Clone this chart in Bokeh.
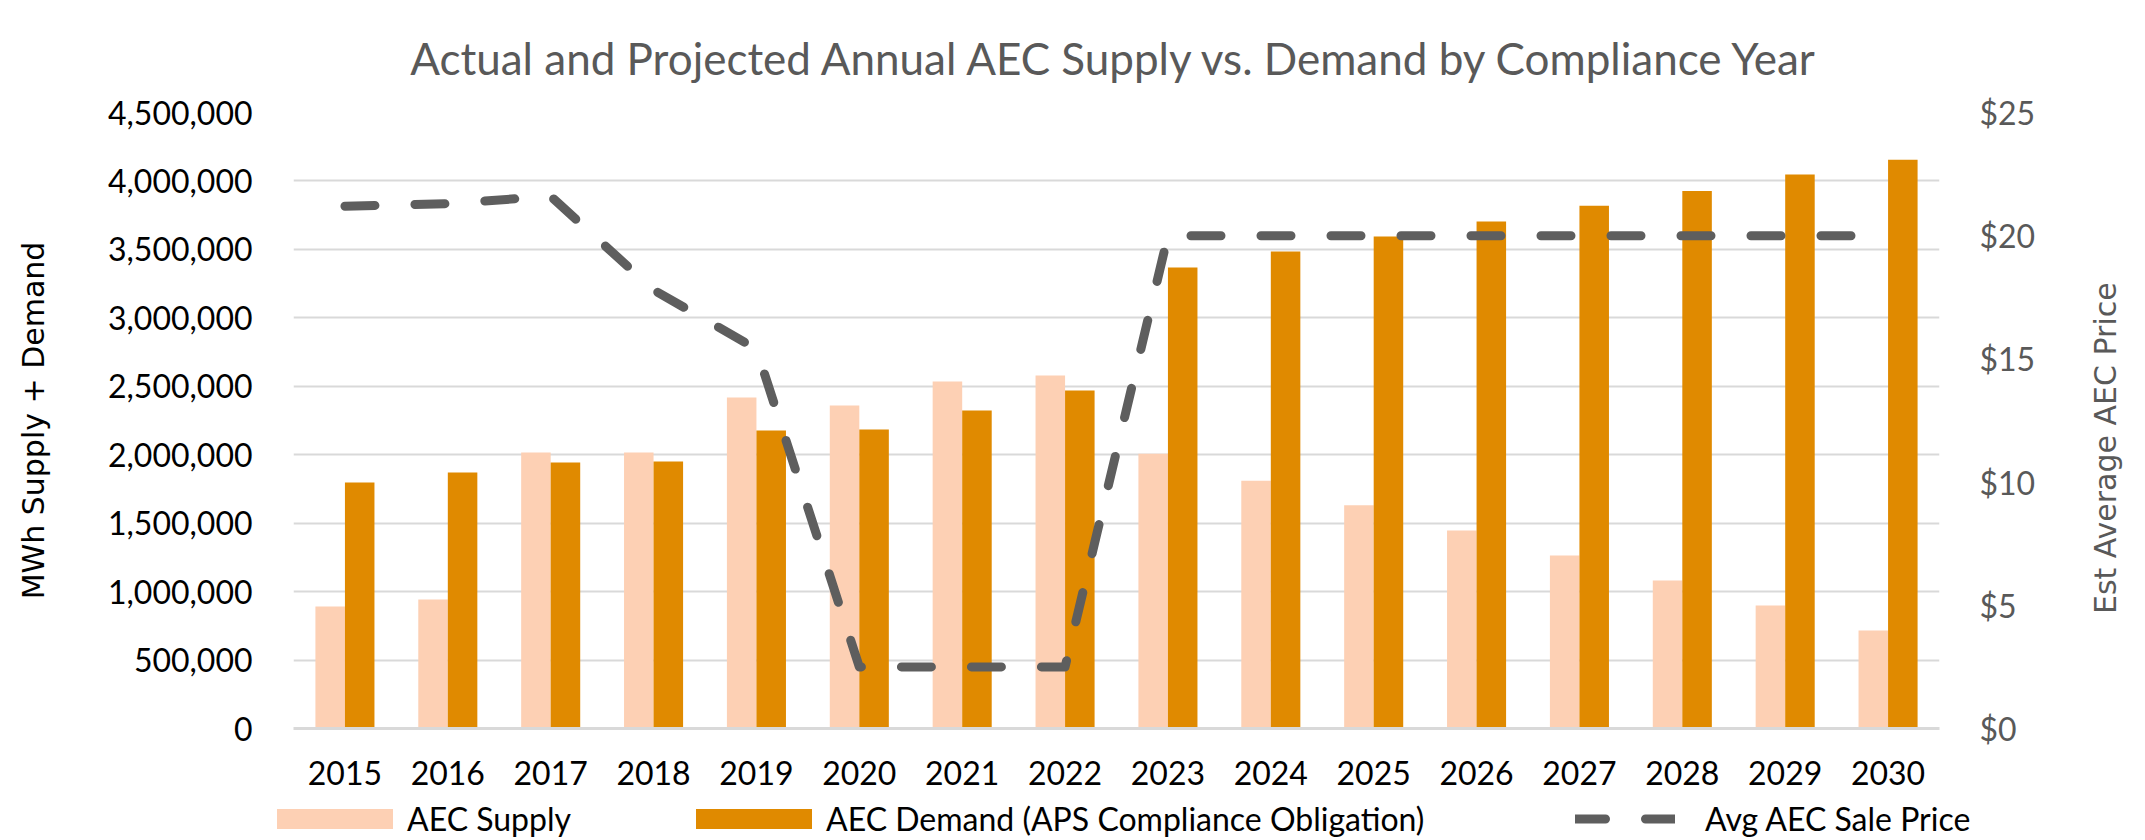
import math
from bokeh.plotting import figure
from bokeh.layouts import column
from bokeh.models import (FactorRange, Range1d, LinearAxis, FixedTicker,
                          NumeralTickFormatter, Legend, LegendItem, ColumnDataSource)
from bokeh.transform import dodge
from bokeh.embed import file_html
from bokeh.resources import INLINE

# ---- data ----
years = ["2015", "2016", "2017", "2018", "2019", "2020", "2021", "2022",
         "2023", "2024", "2025", "2026", "2027", "2028", "2029", "2030"]
aec_supply = [891000, 942000, 2016000, 2016000, 2418000, 2360000, 2535000, 2578000,
              2008000, 1810000, 1630000, 1446000, 1264000, 1081000, 898000, 716000]
aec_demand = [1797000, 1870000, 1943000, 1950000, 2177000, 2184000, 2323000, 2469000,
              3367000, 3484000, 3594000, 3703000, 3818000, 3927000, 4047000, 4154000]
avg_price = [21.2, 21.3, 21.6, 17.8, 15.4, 2.5, 2.5, 2.5,
             20, 20, 20, 20, 20, 20, 20, 20]
left_ticks = [0, 500000, 1000000, 1500000, 2000000, 2500000, 3000000,
              3500000, 4000000, 4500000]
right_ticks = [0, 5, 10, 15, 20, 25]

title_text = "Actual and Projected Annual AEC Supply vs. Demand by Compliance Year"
left_title = "MWh Supply + Demand"
right_title = "Est Average AEC Price"
label_supply = "AEC Supply"
label_demand = "AEC Demand (APS Compliance Obligation)"
label_price = "Avg AEC Sale Price"

# ---- styles ----
C_SUPPLY = "#FDD0B4"
C_DEMAND = "#E08A00"
C_LINE = "#5E5E5E"
C_GRID = "#D9D9D9"
FONT = "Lato"
BAR_W = 0.287

src = ColumnDataSource(data=dict(year=years, supply=aec_supply,
                                 demand=aec_demand, price=avg_price))

# ================= main chart =================
p = figure(x_range=FactorRange(factors=years, range_padding=0),
           y_range=Range1d(0, 4500000),
           width=2145, height=800, output_backend="svg", toolbar_location=None,
           min_border_left=293, min_border_right=206,
           min_border_top=112, min_border_bottom=72)
p.frame_align = False
p.outline_line_color = None
p.background_fill_color = "white"
p.border_fill_color = "white"

p.title.text = title_text
p.title.align = "center"
p.title.text_font = FONT
p.title.text_font_size = "44px"
p.title.text_font_style = "normal"
p.title.text_color = "#595959"
p.title.standoff = 58

p.extra_y_ranges = {"price": Range1d(0, 25)}

p.vbar(x=dodge("year", -BAR_W / 2, range=p.x_range), top="supply", width=BAR_W,
       source=src, fill_color=C_SUPPLY, line_color=None)
p.vbar(x=dodge("year", BAR_W / 2, range=p.x_range), top="demand", width=BAR_W,
       source=src, fill_color=C_DEMAND, line_color=None)
p.line(x="year", y="price", source=src, y_range_name="price",
       line_color=C_LINE, line_width=9, line_dash="30 40",
       line_cap="round", line_join="round")

ax_l = p.left[0]
ax_b = p.below[0]
ax_r = LinearAxis(y_range_name="price", ticker=FixedTicker(ticks=right_ticks),
                  formatter=NumeralTickFormatter(format="$0"))
p.add_layout(ax_r, "right")

ax_l.ticker = FixedTicker(ticks=left_ticks)
ax_l.formatter = NumeralTickFormatter(format="0,0")

for ax in (ax_l, ax_r, ax_b):
    ax.major_tick_line_color = None
    ax.minor_tick_line_color = None
    ax.major_tick_out = 0
    ax.major_tick_in = 0
    ax.major_label_text_font = FONT
    ax.major_label_text_font_size = "32px"
    ax.axis_label_text_font = "DejaVu Sans"
    ax.axis_label_text_font_size = "30px"
    ax.axis_label_text_font_style = "normal"

ax_l.axis_line_color = None
ax_r.axis_line_color = None
ax_b.axis_line_color = C_GRID
ax_b.axis_line_width = 3

ax_l.major_label_text_color = "black"
ax_l.major_label_standoff = 41
ax_l.axis_label = left_title
ax_l.axis_label_text_color = "black"
ax_l.axis_label_standoff = 54

ax_r.major_label_text_color = "#595959"
ax_r.major_label_standoff = 40
# reads bottom-to-top like the reference; anchored at the axis start, lifted with
# leading no-break spaces to the reference height
ax_r.axis_label = "\u00a0" * 12 + right_title
ax_r.axis_label_text_color = "#595959"
ax_r.axis_label_standoff = 67
ax_r.axis_label_orientation = math.pi / 2
ax_r.axis_label_align = "start"

ax_b.major_label_text_color = "black"
ax_b.major_label_standoff = 32

p.xgrid.visible = False
p.ygrid.grid_line_color = C_GRID
p.ygrid.grid_line_width = 2

# ================= legend strip =================
q = figure(x_range=Range1d(0, 1), y_range=Range1d(0, 1),
           width=2145, height=40, output_backend="svg", toolbar_location=None,
           x_axis_location=None, y_axis_location=None,
           min_border_left=0, min_border_right=0, min_border_top=0, min_border_bottom=0)
q.frame_align = False
q.outline_line_color = None
q.grid.visible = False
q.background_fill_color = "white"
q.border_fill_color = "white"

# key-only renderers: one empty (NaN) row each, styled like the chart's series
key_src = ColumnDataSource(data=dict(x=[float("nan")], y=[float("nan")]))
k_sup = q.vbar(x="x", top="y", width=0.1, source=key_src,
               fill_color=C_SUPPLY, line_color=None)
k_dem = q.vbar(x="x", top="y", width=0.1, source=key_src,
               fill_color=C_DEMAND, line_color=None)
k_line = q.line(x="x", y="y", source=key_src,
                line_color=C_LINE, line_width=9, line_dash="30 40",
                line_cap="round", line_join="round")


def add_key(label, rend, x, gw, standoff):
    lg = Legend(items=[LegendItem(label=label, renderers=[rend])], location=(x, 2),
                orientation="horizontal", glyph_width=gw, glyph_height=25,
                label_standoff=standoff, padding=0, margin=0, spacing=0,
                border_line_color=None, background_fill_alpha=0,
                label_text_font=FONT, label_text_font_size="32px",
                label_text_color="black")
    q.add_layout(lg, "center")


add_key(label_supply, k_sup, 262, 145, 0)
add_key(label_demand, k_dem, 681, 145, 0)
add_key(label_price, k_line, 1575, 100, 30)

page = column(p, q, spacing=0)
open("out.html", "w").write(file_html(page, INLINE))
